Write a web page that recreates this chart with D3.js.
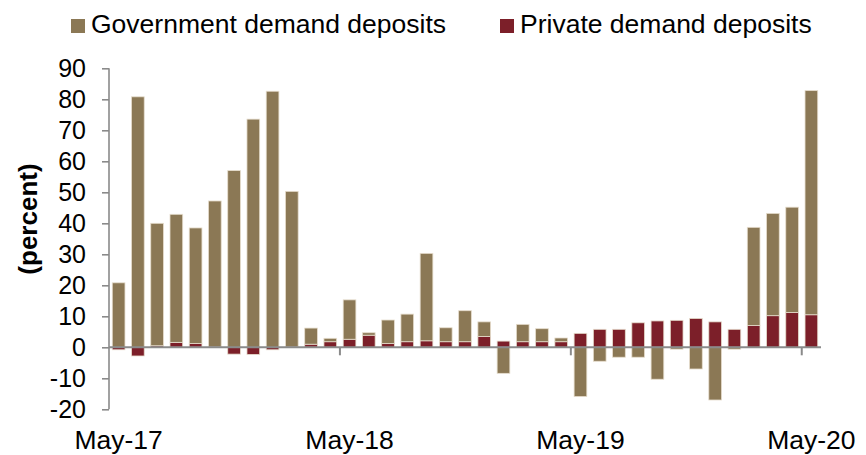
<!DOCTYPE html>
<html>
<head>
<meta charset="utf-8">
<script src="https://cdn.jsdelivr.net/npm/d3@7"></script>
<style>
  html, body { margin: 0; padding: 0; background: #fff; }
  svg { display: block; font-family: "Liberation Sans", Arial, sans-serif; }
</style>
</head>
<body>
<svg id="chart" width="866" height="455"></svg>
<script>
// Monthly, May-17 .. May-20
const months = ["May-17","Jun-17","Jul-17","Aug-17","Sep-17","Oct-17","Nov-17","Dec-17",
  "Jan-18","Feb-18","Mar-18","Apr-18","May-18","Jun-18","Jul-18","Aug-18","Sep-18","Oct-18",
  "Nov-18","Dec-18","Jan-19","Feb-19","Mar-19","Apr-19","May-19","Jun-19","Jul-19","Aug-19",
  "Sep-19","Oct-19","Nov-19","Dec-19","Jan-20","Feb-20","Mar-20","Apr-20","May-20"];
const government = [20.8, 80.8, 39.5, 41.3, 37.3, 47.1, 57.0, 73.6, 82.6, 50.2, 5.2, 1.1,
  12.7, 0.8, 7.6, 8.9, 28.2, 4.5, 10.0, 4.7, -8.4, 5.6, 4.2, 1.2, -15.9, -4.5, -3.2, -3.2,
  -10.3, -0.6, -7.0, -17.0, -0.6, 31.7, 33.0, 34.0, 72.3];
const privateDep = [-0.8, -2.8, 0.5, 1.6, 1.2, 0.1, -2.2, -2.3, -0.8, 0.1, 1.0, 1.8,
  2.6, 3.9, 1.2, 1.8, 2.1, 1.8, 1.8, 3.5, 2.0, 1.8, 1.8, 1.8, 4.5, 5.8, 5.8, 7.9,
  8.5, 8.7, 9.3, 8.2, 5.8, 7.0, 10.2, 11.2, 10.5];
const xTickLabels = ["May-17","May-18","May-19","May-20"];
const yTicks = [-20,-10,0,10,20,30,40,50,60,70,80,90];
const seriesNames = ["Government demand deposits", "Private demand deposits"];

const colors = { government: "#8b7855", privateDep: "#7c1f29" };

const table = months.map((m, i) => ({ month: m, privateDep: privateDep[i], government: government[i] }));

const svg = d3.select("#chart");

const x = d3.scaleBand().domain(months).range([109, 821]).paddingInner(0.34).paddingOuter(0.17);
const y = d3.scaleLinear().domain([-20, 90]).range([409.3, 68.3]);

const stack = d3.stack().keys(["privateDep", "government"]).offset(d3.stackOffsetDiverging);
const stacked = stack(table);

// bars
svg.append("g").selectAll("g")
  .data(stacked)
  .join("g")
  .attr("fill", d => colors[d.key])
  .selectAll("rect")
  .data(d => d)
  .join("rect")
  .attr("x", d => x(d.data.month))
  .attr("width", x.bandwidth())
  .attr("y", d => y(Math.max(d[0], d[1])))
  .attr("height", d => Math.abs(y(d[0]) - y(d[1])))
  .attr("stroke", "#e6ddcd")
  .attr("stroke-width", 0.8);

const axisColor = "#8a8a8a";

// y axis
const yAxis = svg.append("g").attr("transform", "translate(109,0)")
  .call(d3.axisLeft(y).tickValues(yTicks).tickSize(7).tickPadding(16).tickFormat(d => String(d)));
yAxis.select(".domain").attr("stroke", axisColor).attr("stroke-width", 1.6)
  .attr("d", `M0,${y(90)}V${y(-20)}`);
yAxis.selectAll(".tick line").attr("stroke", axisColor).attr("stroke-width", 1.6);
yAxis.selectAll(".tick text").attr("fill", "#000").style("font-size", "25px")
  .attr("font-family", "Liberation Sans, Arial, sans-serif");

// x axis at zero
const xAxisG = svg.append("g").attr("transform", `translate(0,${y(0)})`);
xAxisG.append("line").attr("x1", 109).attr("x2", 821).attr("y1", 0).attr("y2", 0)
  .attr("stroke", axisColor).attr("stroke-width", 2);
const gap = x.step() - x.bandwidth();
xAxisG.selectAll("line.tk")
  .data(xTickLabels.slice(1))
  .join("line")
  .attr("class", "tk")
  .attr("x1", d => x(d) - gap / 2).attr("x2", d => x(d) - gap / 2)
  .attr("y1", 0).attr("y2", 8)
  .attr("stroke", axisColor).attr("stroke-width", 2);

// x labels at bottom
svg.append("g").selectAll("text")
  .data(xTickLabels)
  .join("text")
  .attr("x", d => x(d) + x.bandwidth() / 2)
  .attr("y", 449)
  .attr("text-anchor", "middle")
  .style("font-size", "26.5px")
  .attr("fill", "#000")
  .text(d => d);

// y title
svg.append("text")
  .attr("transform", "translate(37,219) rotate(-90)")
  .attr("text-anchor", "middle")
  .style("font-size", "26px")
  .style("font-weight", "bold")
  .attr("fill", "#000")
  .text("(percent)");

// legend
const legend = [
  { name: seriesNames[0], color: colors.government, x: 71 },
  { name: seriesNames[1], color: colors.privateDep, x: 500 }
];
const lg = svg.append("g").selectAll("g").data(legend).join("g");
lg.append("rect").attr("x", d => d.x).attr("y", 19).attr("width", 14).attr("height", 14)
  .attr("fill", d => d.color);
lg.append("text").attr("x", d => d.x + 20).attr("y", 33)
  .style("font-size", "26.5px").attr("fill", "#000").text(d => d.name);
</script>
</body>
</html>
